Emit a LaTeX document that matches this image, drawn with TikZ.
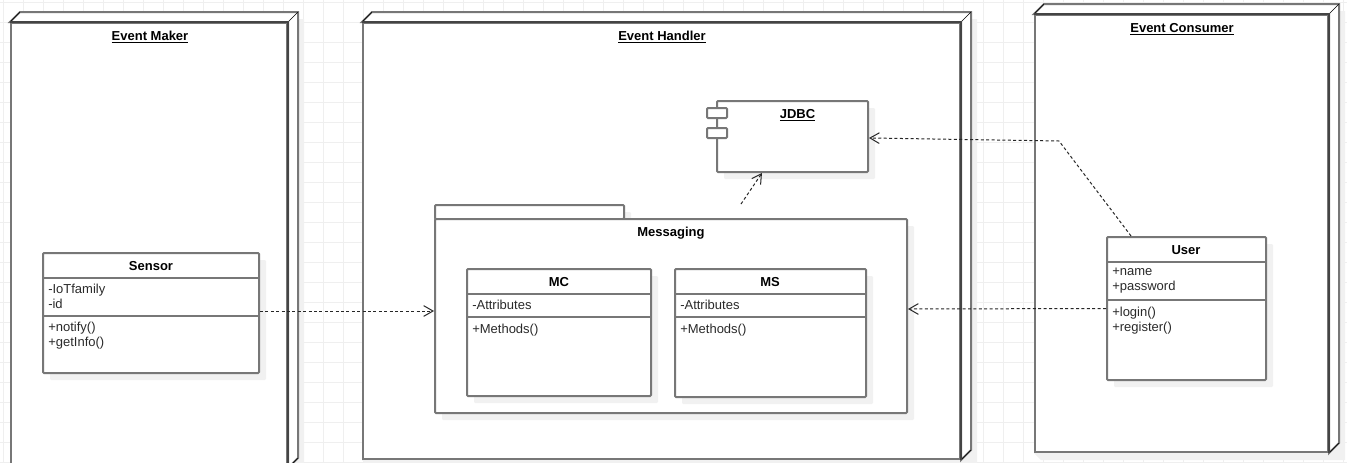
\documentclass[tikz,border=0pt]{standalone}
\usepackage{fontspec}
\setmainfont{Liberation Sans}
\usetikzlibrary{arrows.meta,shadows}
\definecolor{gridGray}{HTML}{EFEFEF}
\definecolor{shadowGray}{HTML}{F1F1F1}
\definecolor{lineGray}{HTML}{777777}
\definecolor{edgeDark}{HTML}{444444}
\definecolor{textGray}{HTML}{2A2A2A}
\begin{document}
\begin{tikzpicture}
        [x=0.75pt, y=-0.75pt,
        gridLine/.style={gridGray, line width=0.75pt},
        frameNode/.style={rectangle, draw=lineGray, fill=white, line width=1.5pt, inner sep=0pt},
        frameTitle/.style={font=\fontsize{9.75pt}{11pt}\selectfont\bfseries, text=black, inner sep=0pt},
        portNode/.style={rectangle, draw=lineGray, fill=white, line width=1.5pt, inner sep=0pt, rounded corners=0.8pt},
        classNode/.style={portNode,
            drop shadow={shadow xshift=5.25pt, shadow yshift=-5.25pt, fill=shadowGray, opacity=1}},
        classLine/.style={lineGray, line width=1.5pt},
        classTitle/.style={font=\fontsize{9.75pt}{11pt}\selectfont\bfseries, text=black, inner sep=0pt},
        member/.style={font=\fontsize{9.75pt}{11.25pt}\selectfont, text=textGray, inner sep=0pt, anchor=north west, align=left},
        depends/.style={black!85, line width=0.75pt, dash pattern=on 2.25pt off 1.8pt, -{Straight Barb[length=7pt, width=8pt]}}]
        \clip (0,0) rectangle (1347,462);

        % background grid
        \foreach \gx in {3,23,...,1343} \draw[gridLine] (\gx,0) -- (\gx,462);
        \foreach \gy in {2,22,...,462} \draw[gridLine] (0,\gy) -- (1347,\gy);

        % deployment frames
        \node[frameNode, minimum width=207pt, minimum height=333pt] (EventMaker) at (149,245) {};
        \node[frameNode, minimum width=447.75pt, minimum height=327pt] (EventHandler) at (661.5,241) {};
        \node[frameNode, minimum width=219.75pt, minimum height=327.75pt] (EventConsumer) at (1181.5,233.5) {};
        \foreach \frameName in {EventMaker,EventHandler,EventConsumer} {
            \fill[shadowGray] ([shift={(10,-3)}]\frameName.north east) -- ([shift={(16,-3)}]\frameName.north east)
                -- ([shift={(16,7)}]\frameName.south east) -- ([shift={(7,7)}]\frameName.south west)
                -- (\frameName.south west) -- (\frameName.south east) -- ([shift={(10,-10)}]\frameName.south east) -- cycle;
            \draw[lineGray, line width=1.5pt, fill=white] ([shift={(10,-10)}]\frameName.north west) -- ([shift={(10,-10)}]\frameName.north east)
                -- ([shift={(10,-10)}]\frameName.south east) -- (\frameName.south east) -- (\frameName.north east) -- (\frameName.north west) -- cycle;
            \draw[black, line width=0.45pt] (\frameName.north west) -- ++(10,-10);
            \draw[black, line width=0.45pt] (\frameName.north east) -- ++(10,-10);
            \draw[black, line width=0.45pt] (\frameName.south east) -- ++(10,-10);
            \draw[edgeDark, line width=1.5pt] (\frameName.north west) -- (\frameName.north east) -- (\frameName.south east);
        }
        \node[frameTitle] (EventMakerTitle) at (150,37) {\underline{Event Maker}};
        \node[frameTitle] (EventHandlerTitle) at (662,37) {\underline{Event Handler}};
        \node[frameTitle] (EventConsumerTitle) at (1182,29) {\underline{Event Consumer}};

        % sensor
        \node[classNode, minimum width=162pt, minimum height=90pt] (Sensor) at (151,313) {};
        \draw[classLine] (Sensor.west |- 0,278) -- (Sensor.east |- 0,278);
        \draw[classLine] (Sensor.west |- 0,316) -- (Sensor.east |- 0,316);
        \node[classTitle] (SensorTitle) at (151,266) {Sensor};
        \node[member] (SensorAttr) at (48,283.5) {-IoTfamily\\-id};
        \node[member] (SensorOps) at (48,322) {+notify()\\+getInfo()};

        % jdbc component
        \node[classNode, minimum width=113.25pt, minimum height=53.25pt] (JDBC) at (792.5,136.5) {};
        \node[portNode, minimum width=15pt, minimum height=7.5pt] (JDBCtop) at (717,113) {};
        \node[portNode, minimum width=15pt, minimum height=7.5pt] (JDBCbottom) at (717,133) {};
        \node[frameTitle] (JDBCTitle) at (797.5,115.5) {\underline{JDBC}};

        % messaging package
        \node[classNode, minimum width=141.75pt, minimum height=10.5pt] (MessagingTab) at (529.5,212) {};
        \node[classNode, minimum width=354pt, minimum height=145.5pt] (Messaging) at (671,316) {};
        \node[classTitle] (MessagingTitle) at (671,233.5) {Messaging};

        \node[classNode, minimum width=138pt, minimum height=95.25pt] (MC) at (559,332.5) {};
        \draw[classLine] (MC.west |- 0,294) -- (MC.east |- 0,294);
        \draw[classLine] (MC.west |- 0,317) -- (MC.east |- 0,317);
        \node[classTitle] (MCTitle) at (559,282) {MC};
        \node[member] (MCAttr) at (472,300) {-Attributes};
        \node[member] (MCOps) at (472,323.5) {+Methods()};

        \node[classNode, minimum width=143.25pt, minimum height=96pt] (MS) at (770.5,333) {};
        \draw[classLine] (MS.west |- 0,294) -- (MS.east |- 0,294);
        \draw[classLine] (MS.west |- 0,317) -- (MS.east |- 0,317);
        \node[classTitle] (MSTitle) at (770,282) {MS};
        \node[member] (MSAttr) at (680,300) {-Attributes};
        \node[member] (MSOps) at (680,323.5) {+Methods()};

        % user
        \node[classNode, minimum width=119.25pt, minimum height=107.25pt] (User) at (1186.5,308.5) {};
        \draw[classLine] (User.west |- 0,262) -- (User.east |- 0,262);
        \draw[classLine] (User.west |- 0,300) -- (User.east |- 0,300);
        \node[classTitle] (UserTitle) at (1186,250) {User};
        \node[member] (UserAttr) at (1112,268) {+name\\+password};
        \node[member] (UserOps) at (1112,306.5) {+login()\\+register()};

        % dependencies
        \coordinate (UserBend) at (1059,141);
        \coordinate (MessagingTop) at (741,204);
        \draw[depends] ([yshift=1.5pt]Sensor.east) -- ([yshift=3.75pt]Messaging.west);
        \draw[depends] (User.west) -- ([yshift=5.25pt]Messaging.east);
        \draw[depends] ([xshift=-41.6pt]User.north) -- (UserBend) -- ([yshift=-1.1pt]JDBC.east);
        \draw[depends] (MessagingTop) -- ([xshift=-22.9pt]JDBC.south);
\end{tikzpicture}
\end{document}
